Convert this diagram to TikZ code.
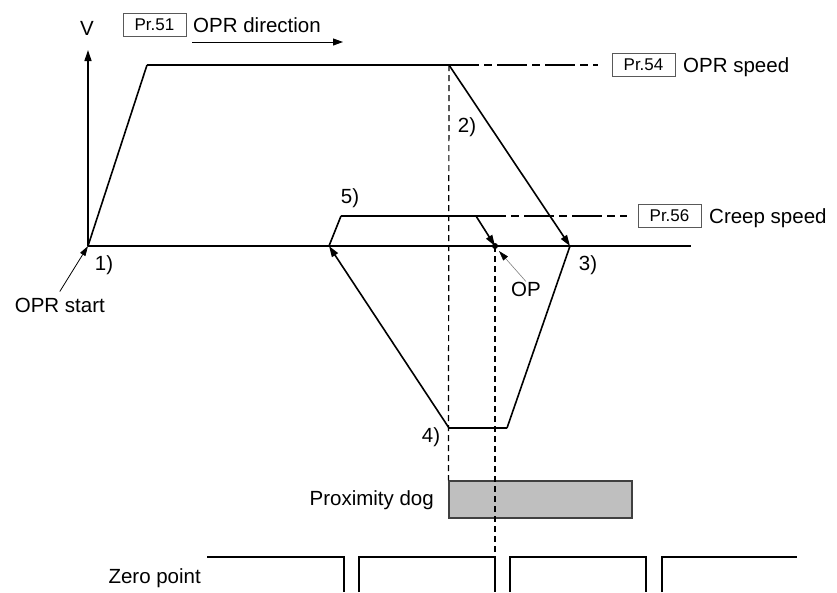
\documentclass[tikz,border=0pt]{standalone}
\usepackage{fontspec}
\setmainfont{Liberation Sans}
\usetikzlibrary{arrows.meta,positioning}

\tikzset{
  flat/.style={line width=2.6pt},
  slope/.style={line width=1.6pt},
  axis/.style={line width=1.3pt},
  guide/.style={line width=1.2pt, dash pattern=on 6pt off 4pt},
  chain/.style={line width=1.1pt, dash pattern=on 30pt off 5pt on 8pt off 5pt},
  tip/.style={-{Triangle[length=11pt,width=7pt]}},
  parbox/.style={draw=gray!70!black, line width=0.8pt, minimum width=63pt,
    minimum height=23pt, inner sep=0pt, font=\fontsize{17}{20}\selectfont},
  lbl/.style={font=\fontsize{20.5}{24}\selectfont, inner sep=0pt},
  sig/.style={line width=2.6pt},
}

\begin{document}
\begin{tikzpicture}[x=1pt,y=-1pt]
    \useasboundingbox (0,0) rectangle (837,592);
    % profile corners
    \coordinate (o) at (88,246);
    \coordinate (vtop) at (88,50);
    \coordinate (xend) at (691,246);
    \coordinate (a1) at (147,65);
    \coordinate (a2) at (449,65);
    \coordinate (a3) at (570,246);
    \coordinate (b1) at (507,428);
    \coordinate (b2) at (449,428);
    \coordinate (b3) at (329,246);
    \coordinate (c1) at (341,216);
    \coordinate (c2) at (476,216);
    \coordinate (op) at (495,246);
    \coordinate (optip) at (499,251);

    % axes
    \draw[axis, tip] (o) -- (vtop);
    \draw[axis] (o) -- (xend);
    \node[lbl] (vlbl) at (87,28) {V};

    % OPR direction
    \node[parbox] (pr51) at (154.5,25) {Pr.51};
    \node[lbl, anchor=base west] (dirtxt) at (193,32) {OPR direction};
    \coordinate (dirA) at (192,42);
    \coordinate (dirB) at (343,42);
    \draw[line width=1pt, -{Triangle[length=10pt,width=7pt]}] (dirA) -- (dirB);

    % OPR speed
    \draw[slope] (o) -- (a1);
    \draw[flat] (a1) -- (a2);
    \draw[slope, tip] (a2) -- (a3);
    \node[parbox] (pr54) at (643.5,65) {Pr.54};
    \node[lbl, anchor=base west] (spdtxt) at (683,72) {OPR speed};
    \draw[chain, shorten >=14pt] (a2) -- (pr54.west);

    % reverse run
    \draw[slope] (a3) -- (b1);
    \draw[flat] (b1) -- (b2);
    \draw[slope, tip] (b2) -- (b3);

    % creep speed
    \draw[slope] (b3) -- (c1);
    \draw[flat] (c1) -- (c2);
    \draw[slope, tip] (c2) -- (op);
    \fill (op) circle (3pt);
    \node[parbox] (pr56) at (669.5,216) {Pr.56};
    \node[lbl, anchor=base west] (crptxt) at (709,223) {Creep speed};
    \draw[chain, shorten >=11pt] (c2) -- (pr56.west);

    % step labels
    \node[lbl] (s1) at (104,265) {1)};
    \node[lbl] (s2) at (467,127) {2)};
    \node[lbl] (s3) at (588,265) {3)};
    \node[lbl] (s4) at (431,437) {4)};
    \node[lbl] (s5) at (350,198) {5)};
    \node[lbl] (opl) at (526,289) {OP};
    \draw[gray, line width=0.6pt, -{Triangle[length=10pt,width=6pt,color=black]}] (opl.north) -- (optip);
    \node[lbl, anchor=base east] (start) at (105,312) {OPR start};
    \draw[line width=0.8pt, -{Triangle[length=10pt,width=6pt]}] ([yshift=6pt]start.north) -- (o);

    % proximity dog
    \node[draw=black!75, line width=1.2pt, fill=gray!50, minimum width=183pt,
      minimum height=37pt, inner sep=0pt] (dog) at (540.5,499.5) {};
    \node[lbl, anchor=base east] (doglbl) at (434,505) {Proximity dog};
    \draw[guide] (a2) -- (dog.north west);
    \coordinate (zp) at (495,557);
    \draw[guide] (op) -- (zp);

    % zero point signal
    \node[lbl, anchor=base east] (zlbl) at (201,583) {Zero point};
    \draw[sig] (207,557) -- (344,557) -- (344,592);
    \draw[sig] (359,592) -- (359,557) -- (zp) -- (495,592);
    \draw[sig] (510,592) -- (510,557) -- (646,557) -- (646,592);
    \draw[sig] (662,592) -- (662,557) -- (797,557);
\end{tikzpicture}
\end{document}
